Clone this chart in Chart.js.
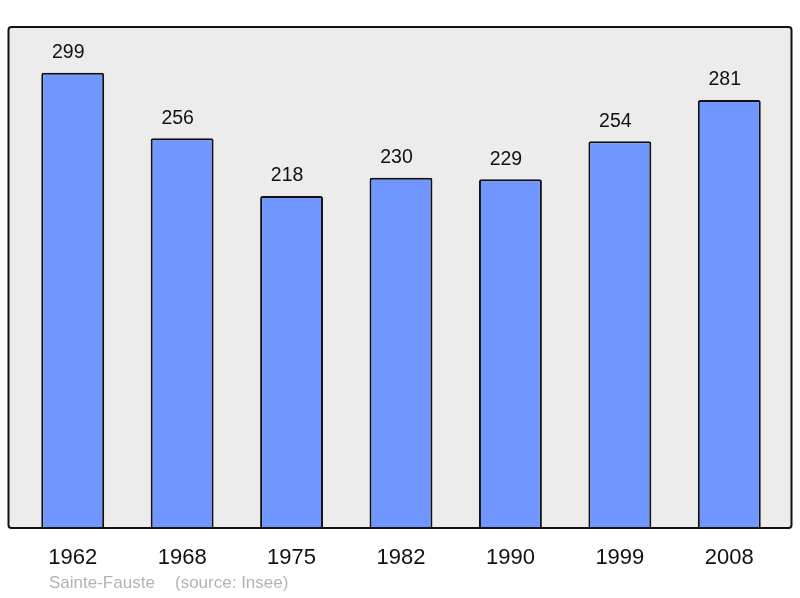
<!DOCTYPE html>
<html>
<head>
<meta charset="utf-8">
<script src="https://cdn.jsdelivr.net/npm/chart.js@4.4.1/dist/chart.umd.min.js"></script>
<style>
  html, body { margin: 0; padding: 0; background: #fff; }
  #wrap { width: 800px; height: 598px; }
</style>
</head>
<body>
<div id="wrap"><canvas id="chart" width="800" height="598"></canvas></div>
<script>
const years = ["1962", "1968", "1975", "1982", "1990", "1999", "2008"]
const population = [299, 256, 218, 230, 229, 254, 281]
const commune = "Sainte-Fauste"
const source = "(source: Insee)"

// grey panel behind the bars, a bit wider than the chart area
const panel = {
  id: "panel",
  beforeDraw(chart) {
    const { ctx, chartArea } = chart
    const x = chartArea.left - 9.5
    const y = chartArea.top
    const w = chartArea.right + 7.5 - x
    const h = chartArea.bottom - y
    ctx.save()
    ctx.beginPath()
    ctx.roundRect(x, y, w, h, 3)
    ctx.fillStyle = "#ececec"
    ctx.fill()
    ctx.restore()
  },
  afterDatasetsDraw(chart) {
    const { ctx, chartArea } = chart
    const x = chartArea.left - 9.5
    const y = chartArea.top
    const w = chartArea.right + 7.5 - x
    const h = chartArea.bottom - y
    ctx.save()
    ctx.beginPath()
    ctx.roundRect(x, y, w, h, 3)
    ctx.lineWidth = 2
    ctx.strokeStyle = "#111"
    ctx.stroke()

    // values above bars (sit a little left of the bar centre)
    ctx.fillStyle = "#111"
    ctx.font = "19.5px 'Liberation Sans', Arial, sans-serif"
    ctx.textAlign = "center"
    ctx.textBaseline = "middle"
    chart.getDatasetMeta(0).data.forEach((bar, i) => {
      ctx.fillText(population[i], bar.x - 4.5, bar.y - 20)
    })

    // footer
    ctx.fillStyle = "#b3b3b3"
    ctx.font = "17px 'Liberation Sans', Arial, sans-serif"
    ctx.textAlign = "left"
    ctx.fillText(commune, 49, 583)
    ctx.fillText(source, 175, 583)
    ctx.restore()
  },
}

new Chart(document.getElementById("chart"), {
  type: "bar",
  data: {
    labels: years,
    datasets: [
      {
        data: population,
        backgroundColor: "rgb(112, 150, 255)",
        borderColor: "#111",
        borderWidth: 2,
        borderRadius: 2,
        borderSkipped: "bottom",
        barPercentage: 0.575,
        categoryPercentage: 1,
      },
    ],
  },
  options: {
    responsive: false,
    animation: false,
    layout: {
      padding: { left: 18, right: 16, top: 27, bottom: 0 },
    },
    plugins: {
      legend: { display: false },
      tooltip: { enabled: false },
    },
    scales: {
      x: {
        grid: { display: false },
        border: { display: false },
        ticks: {
          color: "#111",
          font: { size: 22, family: "'Liberation Sans', Arial, sans-serif" },
          padding: 9,
        },
        afterFit(scale) {
          scale.height = 70
        },
      },
      y: {
        display: false,
        min: 0,
        max: 329,
      },
    },
  },
  plugins: [panel],
})
</script>
</body>
</html>
